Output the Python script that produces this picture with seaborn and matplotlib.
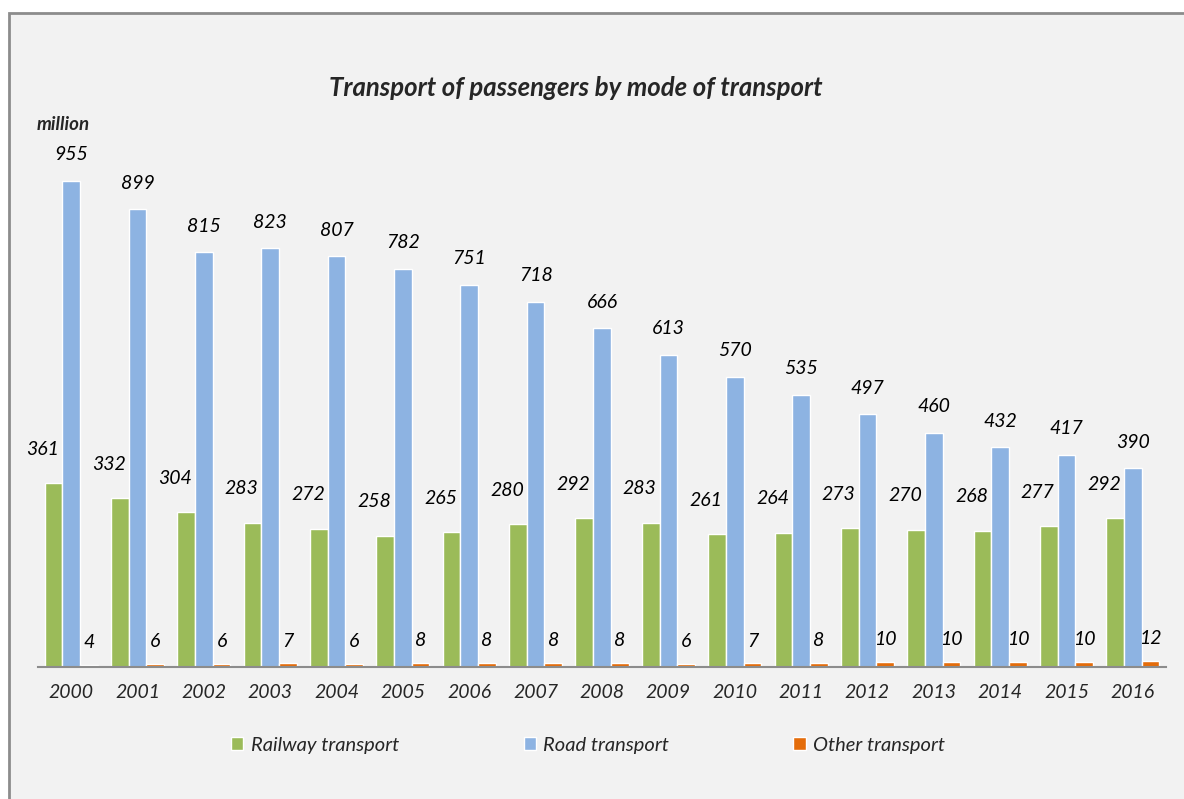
import numpy as np
import pandas as pd
import matplotlib
matplotlib.use("Agg")
import matplotlib.pyplot as plt
from matplotlib.patches import Rectangle
import seaborn as sns

years = [str(y) for y in range(2000, 2017)]
railway = [361, 332, 304, 283, 272, 258, 265, 280, 292, 283, 261, 264, 273, 270, 268, 277, 292]
road = [955, 899, 815, 823, 807, 782, 751, 718, 666, 613, 570, 535, 497, 460, 432, 417, 390]
other = [4, 6, 6, 7, 6, 8, 8, 8, 8, 6, 7, 8, 10, 10, 10, 10, 12]
modes = ["Railway transport", "Road transport", "Other transport"]
colors = ["#9bbb59", "#8db3e2", "#e46c0a"]

df = pd.DataFrame({
    "year": years * 3,
    "mode": [modes[0]] * 17 + [modes[1]] * 17 + [modes[2]] * 17,
    "value": railway + road + other,
})

sns.set_style("white")
plt.rcParams["font.family"] = ["Lato", "DejaVu Sans"]

fig = plt.figure(figsize=(11.84, 7.99), dpi=100)
fig.patch.set_facecolor("white")
# grey panel with border on top/left
fig.patches.append(Rectangle((9 / 1184, -0.05), 1.2, 1.05 - 13 / 799,
                             transform=fig.transFigure, facecolor="#f2f2f2",
                             edgecolor="#8c8c8c", linewidth=2, zorder=-10))

ax = fig.add_axes([38 / 1184, 132 / 799, 1128 / 1184, 509 / 799])
ax.set_facecolor("none")

sns.barplot(data=df, x="year", y="value", hue="mode", palette=colors,
            saturation=1, width=0.8, edgecolor="white", linewidth=1.0,
            ax=ax, legend=True)

ax.set_ylim(0, 1000)
ax.set_xlim(-0.5, 16.5)
ax.set_xlabel("")
ax.set_ylabel("")
ax.set_yticks([])
for s in ["top", "right", "left"]:
    ax.spines[s].set_visible(False)
ax.spines["bottom"].set_color("#8c8c8c")
ax.spines["bottom"].set_linewidth(1.5)

ax.tick_params(axis="x", which="major", length=0, pad=12, labelsize=14)
for lab in ax.get_xticklabels():
    lab.set_fontstyle("italic")
ax.set_xticks(np.arange(0.5, 16.5, 1), minor=True)
ax.tick_params(axis="x", which="minor", length=5, width=1.5, color="#8c8c8c",
               direction="out")

# value labels
offsets = [(-11, 34), (0, 26), (0, 22)]
for cont, (dx, dy) in zip(ax.containers, offsets):
    for bar in cont:
        h = bar.get_height()
        ax.annotate(f"{int(round(h))}",
                    (bar.get_x() + bar.get_width() / 2, h),
                    xytext=(dx, dy), textcoords="offset pixels",
                    ha="center", va="center", fontsize=14,
                    fontstyle="italic", color="black")

ax.get_legend().remove()
handles = [Rectangle((0, 0), 1, 1, facecolor=c, edgecolor="white") for c in colors]
leg = fig.legend(handles, modes, loc="center", bbox_to_anchor=(588 / 1184, 1 - 745 / 799),
                 ncol=3, frameon=False, fontsize=14.5, handlelength=0.6,
                 handleheight=0.6, handletextpad=0.35, columnspacing=6.2)
for t in leg.get_texts():
    t.set_fontstyle("italic")

fig.text(576 / 1184, 1 - 88 / 799, "Transport of passengers by mode of transport",
         ha="center", va="center", fontsize=18.5, fontweight="bold", fontstyle="italic")
fig.text(37 / 1184, 1 - 125 / 799, "million", ha="left", va="center",
         fontsize=13.5, fontweight="bold", fontstyle="italic")

fig.savefig("out.png", dpi=100)
